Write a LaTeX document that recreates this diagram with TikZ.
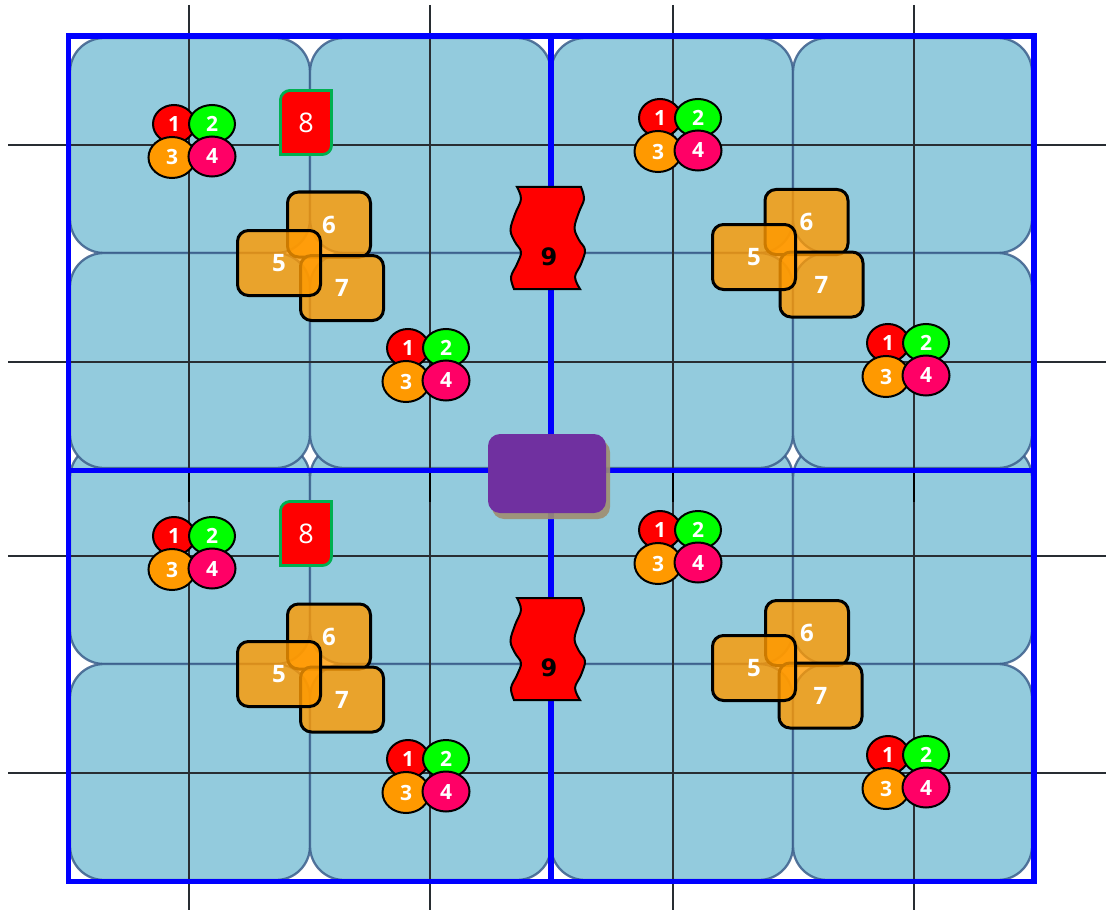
\documentclass[tikz,border=0pt]{standalone}
\usepackage{fontspec}
\setmainfont{Open Sans}
\newfontfamily\ninefont{DejaVu Sans}
\usetikzlibrary{shapes.geometric}
\definecolor{sqfill}{RGB}{147,203,221}
\definecolor{sqline}{RGB}{60,95,140}
\definecolor{gline}{RGB}{40,45,50}
\definecolor{frameblue}{RGB}{0,0,255}
\definecolor{cred}{RGB}{255,0,0}
\definecolor{cgreen}{RGB}{0,255,0}
\definecolor{corange}{RGB}{255,153,0}
\definecolor{cpink}{RGB}{255,0,102}
\definecolor{boxor}{RGB}{255,153,0}
\definecolor{purp}{RGB}{112,48,160}
\definecolor{shad}{RGB}{160,142,112}
\definecolor{grn8}{RGB}{0,176,80}
\begin{document}
\begin{tikzpicture}[x=1pt,y=-1pt,
  sq/.style={fill=sqfill, draw=sqline, draw opacity=0.85, line width=2.3, rounded corners=34},
  gridline/.style={draw=gline, line width=1.3},
  frame/.style={draw=frameblue, line width=5.5},
  ball/.style={ellipse, draw=black, line width=2, inner sep=0, text=white, font=\bfseries\fontsize{21}{21}\selectfont},
  obox/.style={rectangle, rounded corners=11, fill=boxor, fill opacity=0.8, draw=black, line width=3, text opacity=1, minimum width=83, minimum height=65, inner sep=0, text=white, font=\bfseries\fontsize{24}{24}\selectfont},
  eightbox/.style={fill=cred, draw=grn8, line width=2.8},
  eightlabel/.style={text=white, inner sep=0, font=\fontsize{27}{27}\selectfont},
  wave/.style={fill=cred, draw=black, line width=2},
  ninelabel/.style={text=black, inner sep=0, font=\ninefont\bfseries\fontsize{24}{24}\selectfont}]
\useasboundingbox (0,0) rectangle (1110,912);
% rounded squares: lower block first, upper block over it
\foreach \xa/\xb in {70/310,310/551,551/793,793/1032}{
  \foreach \ya/\yb in {444/664,664/880}{\draw[sq] (\xa,\ya) rectangle (\xb,\yb);}}
\foreach \xa/\xb in {70/310,310/551,551/793,793/1032}{
  \foreach \ya/\yb in {38/253,253/468}{\draw[sq] (\xa,\ya) rectangle (\xb,\yb);}}
% thin grid lines
\foreach \x in {189,430,673,914}{\draw[gridline] (\x,5) -- (\x,910);}
\foreach \y in {145,362,556,773}{\draw[gridline] (8,\y) -- (1106,\y);}
\foreach \x in {189,430,673,914}{\draw[gridline,draw=black] (\x,468) -- (\x,502);}
% blue frame
\draw[frame] (68.5,36) rectangle (1034,881.5);
\draw[frame, line width=6.5] (551,36) -- (551,881.5);
\draw[frame] (68.5,470.5) -- (1034,470.5);
% ball clusters
\newcommand\ballset[3]{%
  \begin{scope}[shift={(#2,#3)}]
  \node[ball, fill=cred, minimum width=42, minimum height=38] (#1one) at (0,0) {1};
  \node[ball, fill=cgreen, minimum width=46, minimum height=38] (#1two) at (38,0) {2};
  \node[ball, fill=corange, minimum width=47, minimum height=41] (#1three) at (-2,33.5) {3};
  \node[ball, fill=cpink, minimum width=47, minimum height=40] (#1four) at (38,32.5) {4};
  \end{scope}}
\ballset{ula}{174}{124}
\ballset{ura}{660}{118}
\ballset{ulb}{408}{348}
\ballset{urb}{888}{343}
\ballset{lla}{174}{536}
\ballset{lra}{660}{530}
\ballset{llb}{408}{759}
\ballset{lrb}{888}{755}
% box 8
\newcommand\eightset[2]{%
  \begin{scope}[shift={(0,#2)}]
  \draw[eightbox] (280.5,99.5) .. controls (280.5,94.5) and (285.5,90.5) .. (289.5,90.5)
     -- (331.5,90.5) -- (331.5,145.5) .. controls (331.5,150.5) and (327.5,154.5) .. (322.5,154.5)
     -- (280.5,154.5) -- cycle;
  \node[eightlabel] (#1) at (306,123) {8};
  \end{scope}}
\eightset{eightup}{0}
\eightset{eightdown}{411}
% orange boxes 5 6 7
\newcommand\oset[4]{%
  \node[obox] (#1six) at (#2) {6};
  \node[obox] (#1seven) at (#4) {7};
  \node[obox] (#1five) at (#3) {5};}
\oset{ul}{329,224.5}{279,263}{342,288}
\oset{ur}{806.5,222}{754,257}{821.5,284.5}
\oset{ll}{329,636.5}{279,674}{342,699.5}
\oset{lr}{807,633}{754,668}{820.5,695.5}
% wavy 9 shapes
\newcommand\nineset[2]{%
  \begin{scope}[shift={(0,#2)}]
  \draw[wave] plot[smooth, tension=0.6] coordinates {(517,187) (521,199) (515,214) (510.5,230) (515,242) (521,252) (517,264) (511,277) (514,289)}
     -- plot[smooth, tension=0.6] coordinates {(580,289) (575,277) (581,264) (585,250) (579,240) (574.5,228) (579,212) (584,199) (581,187)} -- cycle;
  \node[ninelabel] (#1) at (549,257) {9};
  \end{scope}}
\nineset{nineup}{0}
\nineset{ninedown}{411}
% purple centre block
\fill[shad, opacity=0.9, rounded corners=12] (492,440) rectangle (610,519);
\fill[purp, rounded corners=12] (488,434) rectangle (606,513);
\end{tikzpicture}
\end{document}
